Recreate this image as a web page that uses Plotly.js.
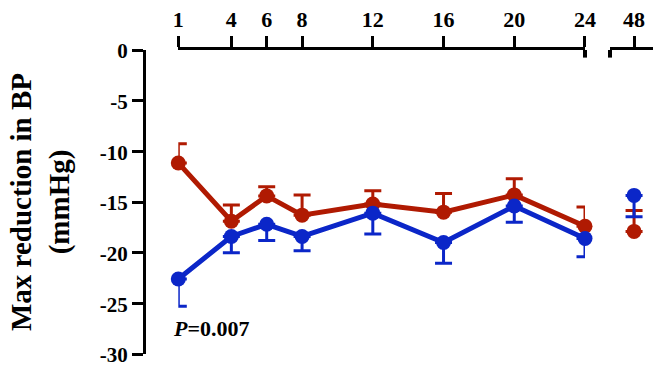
<!DOCTYPE html>
<html>
<head>
<meta charset="utf-8">
<script src="https://cdn.plot.ly/plotly-3.0.1.min.js"></script>
<style>html,body{margin:0;padding:0;background:#fff;}#chart{width:653px;height:367px;}</style>
</head>
<body>
<div id="chart"></div>
<script>
// Data
const hours = [1, 4, 6, 8, 12, 16, 20, 24];
const redMean = [-11.15, -16.9, -14.4, -16.3, -15.2, -16.0, -14.3, -17.4];
const redSem = [1.9, 1.6, 0.9, 2.0, 1.3, 1.85, 1.6, 1.9];
const blueMean = [-22.6, -18.4, -17.2, -18.4, -16.1, -19.0, -15.4, -18.6];
const blueSem = [2.7, 1.6, 1.6, 1.4, 2.05, 2.05, 1.6, 1.8];
const lateHour = [48];
const redLate = [-17.9];
const redLateSem = [2.05];
const blueLate = [-14.35];
const blueLateSem = [2.1];
const hourTicks = [1, 4, 6, 8, 12, 16, 20, 24];
const yTicks = [0, -5, -10, -15, -20, -25, -30];

const RED = '#B01A02';
const BLUE = '#0B26C8';
const FONT = 'Liberation Serif, Times New Roman, serif';

function zeros(n) { return new Array(n).fill(0); }

function series(x, y, sem, color, up, xa, mode) {
  return {
    x: x, y: y, xaxis: xa, yaxis: 'y', type: 'scatter', mode: mode,
    cliponaxis: false, showlegend: false,
    line: {color: color, width: 5},
    marker: {color: color, size: 15},
    error_y: {
      type: 'data', symmetric: false,
      array: up ? sem : zeros(sem.length),
      arrayminus: up ? zeros(sem.length) : sem,
      color: color, thickness: 3, width: 8.5
    }
  };
}

const data = [
  series(hours, redMean, redSem, RED, true, 'x', 'lines+markers'),
  series(lateHour, redLate, redLateSem, RED, true, 'x2', 'markers'),
  series(hours, blueMean, blueSem, BLUE, false, 'x', 'lines+markers'),
  series(lateHour, blueLate, blueLateSem, BLUE, false, 'x2', 'markers')
];

const tickFont = {family: FONT, size: 22, color: '#000', weight: 'bold'};
const yTickFont = {family: FONT, size: 21, color: '#000', weight: 'bold'};

const layout = {
  width: 653, height: 367,
  margin: {l: 144, r: 0, t: 50, b: 13},
  paper_bgcolor: '#fff', plot_bgcolor: '#fff',
  xaxis: {
    domain: [0.0674, 0.8664], range: [1, 24], side: 'top', anchor: 'y',
    tickvals: hourTicks, ticktext: hourTicks.map(String),
    ticks: 'outside', ticklen: 11, tickwidth: 3, tickcolor: '#000',
    showline: true, linewidth: 3, linecolor: '#000',
    showgrid: false, zeroline: false, tickfont: tickFont
  },
  xaxis2: {
    domain: [0.9155, 1], range: [46.64, 49.07], side: 'top', anchor: 'y',
    tickvals: lateHour, ticktext: lateHour.map(String),
    ticks: 'outside', ticklen: 11, tickwidth: 3, tickcolor: '#000',
    showline: true, linewidth: 3, linecolor: '#000',
    showgrid: false, zeroline: false, tickfont: tickFont
  },
  yaxis: {
    range: [-30, 0], anchor: 'free', position: 0,
    tickvals: yTicks, ticktext: yTicks.map(String),
    ticks: 'outside', ticklen: 11, tickwidth: 3, tickcolor: '#000',
    ticklabeloverflow: 'allow', ticklabelshift: 1,
    showline: true, linewidth: 3, linecolor: '#000',
    showgrid: false, zeroline: false, tickfont: yTickFont,
    title: {text: 'Max reduction in BP<br>(mmHg)', font: {family: FONT, size: 29, color: '#000', weight: 'bold'}, standoff: 20}
  },
  shapes: [
    {type: 'line', xref: 'x domain', yref: 'y', x0: 1, x1: 1, y0: 0, y1: -0.75, line: {color: '#000', width: 4}},
    {type: 'line', xref: 'x2 domain', yref: 'y', x0: 0, x1: 0, y0: 0.75, y1: -0.75, line: {color: '#000', width: 4}}
  ],
  annotations: [
    {xref: 'x', yref: 'y', x: 1, y: -27.5, xshift: -7, xanchor: 'left', yanchor: 'middle', showarrow: false,
     text: '<i>P</i>=0.007', font: {family: FONT, size: 22, color: '#000', weight: 'bold'}}
  ]
};

Plotly.newPlot('chart', data, layout, {staticPlot: true, displayModeBar: false});
</script>
</body>
</html>
